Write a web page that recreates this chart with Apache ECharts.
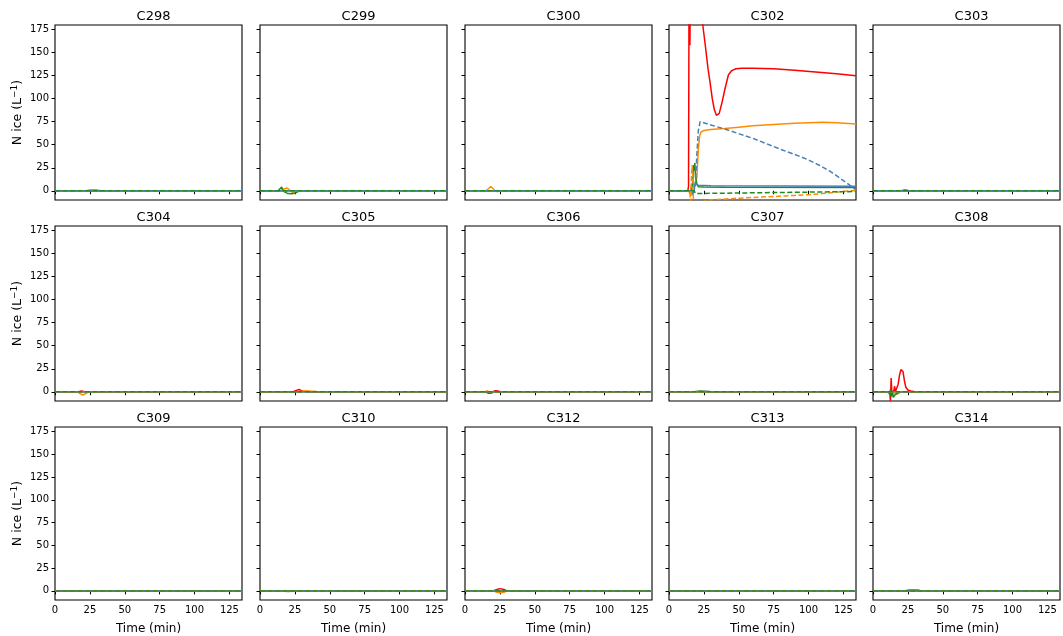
<!DOCTYPE html>
<html>
<head>
<meta charset="utf-8">
<script src="https://cdn.jsdelivr.net/npm/echarts@6/dist/echarts.min.js"></script>
<style>
html,body{margin:0;padding:0;background:#fff;}
#chart{width:1063px;height:636px;}
</style>
</head>
<body>
<div id="chart"></div>
<script>
// ---------- categories / ticks ----------
const panelNames = ['C298','C299','C300','C302','C303','C304','C305','C306','C307','C308','C309','C310','C312','C313','C314'];
const xTicks = [0, 25, 50, 75, 100, 125];
const yTicks = [0, 25, 50, 75, 100, 125, 150, 175];
const seriesKeys = ['red','orange','green','blue','blueDash','orangeDash','greenDash'];

// ---------- data: [time (min), N ice (L^-1)] ----------
const BASE = [[0,0],[134,0]];

const red302 = [[0,0],[13.5,0],[14,5],[14.5,300],[15,158],[15.5,300],[16,400],[20,400],[23,220],[24.2,180],[26,158],[28,132],[29.5,117],[31,100],[32.5,88],[34,82],[34.7,81],[36,84],[38,96],[40,110],[42.6,126],[45,130.5],[48,132.5],[52,133],[60,133],[75,132.5],[90,131],[105,129],[120,127],[134,125]];
const orange302 = [[0,0],[14,0],[15,-3],[16,5],[17,10],[18,3],[19,2],[20,15],[21,45],[22,60],[23,64],[25,65.5],[30,66.5],[40,67.5],[50,69],[60,70.5],[75,72],[90,73.2],[100,74],[110,74.3],[120,74],[134,72.5]];
const green302 = [[0,0],[16,0],[17,8],[17.5,28],[18,22],[18.5,30],[19,15],[20,7],[21,4.5],[25,4],[40,3.9],[134,3.6]];
const blue302 = [[0,0],[16,0],[17,-5],[18,2],[19,8],[20,6.5],[21,6],[30,5.6],[134,5]];
const blueDash302 = [[0,0],[18,0],[19,10],[20,40],[21,65],[22.3,75],[30,71.5],[40,67],[51,61.5],[60,57],[70,51],[80,45],[90,39.5],[100,33.5],[108,27.5],[115,21.5],[120,16.5],[125,11],[130,5.5],[134,1]];
const orangeDash302 = [[0,0],[15,0],[15.5,-20],[16,10],[16.5,28],[17,20],[17.5,-10],[18,-40],[20,-30],[22,-18],[24,-12],[27,-10],[35,-9.5],[50,-8],[60,-7.2],[75,-6.2],[90,-5],[100,-4.3],[110,-3],[118,-1.8],[126,-0.5],[134,0.4]];
const greenDash302 = [[0,0],[18,0],[19,-3],[20,-1],[134,-0.8]];

const red308 = [[0,0],[12,0],[12.5,-10],[13,15],[13.5,0],[14,-3],[15,2],[15.5,6],[16,0],[17,1],[18,8],[19,18],[20,24],[20.6,25.7],[21.5,22],[22.5,12],[23.5,5],[25,2],[27,0.8],[30,0],[134,0]];
const green308 = [[0,0],[11,0],[12,-3],[12.5,3],[13,-5],[14,-2],[14.5,-6],[15,-4],[16,-3],[17,-1],[19,0],[134,0]];
const orange308 = [[0,0],[14,0],[15,-1],[17,-2.5],[19,-1],[21,0],[134,0]];

const orange298 = [[0,0],[22,0],[25,1],[30,1],[33,0],[134,0]];
const green299 = [[0,0],[13,0],[15.5,4],[16.5,0],[18,-1.5],[20,-3],[23,-3.3],[26,-2],[28,0],[134,0]];
const orange299 = [[0,0],[15,0],[17,2],[19.5,3],[21,1],[23,-1.5],[25,-1],[27,0],[134,0]];
const orange300 = [[0,0],[15,0],[17,2.5],[18.5,4.5],[20,2.5],[21.5,0],[23,-0.8],[25,-0.5],[27,0],[134,0]];
const red303 = [[0,0],[20,0],[23,1],[26,0],[134,0]];
const orange304 = [[0,0],[16,0],[18,-2],[20,-3.5],[22,-2],[24,0],[134,0]];
const red304 = [[0,0],[17,0],[19,1],[21,0],[134,0]];
const red305 = [[0,0],[24,0],[26,1.5],[28,2.5],[30,1],[32,0.5],[36,0],[134,0]];
const orange305 = [[0,0],[28,0],[32,0.8],[38,0.6],[42,0],[134,0]];
const blue305 = [[0,0],[50,0],[56,-0.6],[61,0],[134,0]];
const red306 = [[0,0],[15,0],[16.5,-1.5],[17.5,-3],[19,-1.5],[20.5,0.5],[22,1.2],[23.5,0.8],[25,0],[134,0]];
const orange306 = [[0,0],[14,0],[16,1],[18,-1],[20,0],[134,0]];
const green307 = [[0,0],[18,0],[22,0.8],[27,0.5],[30,0],[134,0]];
const blue310 = [[0,0],[15,0],[20,-0.7],[26,0],[134,0]];
const red312 = [[0,0],[20,0],[23,1.5],[25,2.5],[28,1.5],[30,0],[134,0]];
const orange312 = [[0,0],[20,0],[23,-1.5],[25,-2],[28,-1.5],[30,0],[134,0]];
const green314 = [[0,0],[22,0],[26,1],[32,1],[35,0],[134,0]];
const red314 = [[0,0],[20,0],[24,-0.5],[28,0],[134,0]];

// lookup table built from the arrays above
const panelData = {
  C298: {orange: orange298},
  C299: {green: green299, orange: orange299},
  C300: {orange: orange300},
  C302: {red: red302, orange: orange302, green: green302, blue: blue302, blueDash: blueDash302, orangeDash: orangeDash302, greenDash: greenDash302},
  C303: {red: red303},
  C304: {orange: orange304, red: red304},
  C305: {red: red305, orange: orange305, blue: blue305},
  C306: {red: red306, orange: orange306},
  C307: {green: green307},
  C308: {red: red308, green: green308, orange: orange308},
  C309: {},
  C310: {blue: blue310},
  C312: {red: red312, orange: orange312},
  C313: {},
  C314: {green: green314, red: red314}
};

// ---------- styles ----------
const styles = {
  red:        {color: '#ff0000', type: 'solid'},
  orange:     {color: '#ff8c00', type: 'solid'},
  green:      {color: '#1f8a1f', type: 'solid'},
  blue:       {color: '#4682b4', type: 'solid'},
  blueDash:   {color: '#4682b4', type: [5, 2.5]},
  orangeDash: {color: '#ff8c00', type: [5, 2.5]},
  greenDash:  {color: '#1f8a1f', type: [5, 2.5]}
};

const colLeft = [55, 260, 465, 669, 873];
const rowTop = [25, 226, 427];
const W = 187, H = 175;
const FONT = 'DejaVu Sans';

const grids = [], xAxes = [], yAxes = [], titles = [], series = [];
panelNames.forEach((name, i) => {
  const r = Math.floor(i / 5), c = i % 5;
  grids.push({left: colLeft[c], top: rowTop[r], width: W, height: H, show: true,
    borderColor: '#000', borderWidth: 1.1, backgroundColor: 'transparent', containLabel: false});
  titles.push({text: name, left: colLeft[c] + W / 2, top: rowTop[r] - 20, textAlign: 'center',
    textStyle: {fontFamily: FONT, fontSize: 13, fontWeight: 'normal', color: '#000'}});
  xAxes.push({type: 'value', gridIndex: i, min: 0, max: 134,
    axisLine: {show: false}, splitLine: {show: false},
    axisTick: {show: true, inside: false, length: 3.5, lineStyle: {color: '#000', width: 1}, customValues: xTicks},
    axisLabel: {show: r === 2, customValues: xTicks, fontFamily: FONT, fontSize: 10, color: '#000', margin: 5},
    name: r === 2 ? 'Time (min)' : '', nameLocation: 'middle', nameGap: 23,
    nameTextStyle: {fontFamily: FONT, fontSize: 12, color: '#000'}});
  yAxes.push({type: 'value', gridIndex: i, min: -10, max: 180,
    axisLine: {show: false}, splitLine: {show: false},
    axisTick: {show: true, inside: false, length: 3.5, lineStyle: {color: '#000', width: 1}, customValues: yTicks},
    axisLabel: {show: c === 0, customValues: yTicks, fontFamily: FONT, fontSize: 10, color: '#000', margin: 6},
    name: c === 0 ? 'N ice (L{sup|−1})' : '', nameLocation: 'middle', nameGap: 30,
    nameTextStyle: {fontFamily: FONT, fontSize: 12.5, color: '#000',
      rich: {sup: {fontFamily: FONT, fontSize: 9, color: '#000', padding: [0, 0, 6, 0]}}}});
  const d = panelData[name];
  seriesKeys.forEach(k => {
    series.push({type: 'line', xAxisIndex: i, yAxisIndex: i, data: d[k] || BASE,
      showSymbol: false, symbol: 'none', clip: true, silent: true,
      lineStyle: {color: styles[k].color, type: styles[k].type, width: 1.5},
      itemStyle: {color: styles[k].color}});
  });
});

const chart = echarts.init(document.getElementById('chart'), null, {renderer: 'canvas'});
chart.setOption({
  animation: false,
  backgroundColor: '#fff',
  title: titles,
  grid: grids,
  xAxis: xAxes,
  yAxis: yAxes,
  series: series
});
</script>
</body>
</html>
